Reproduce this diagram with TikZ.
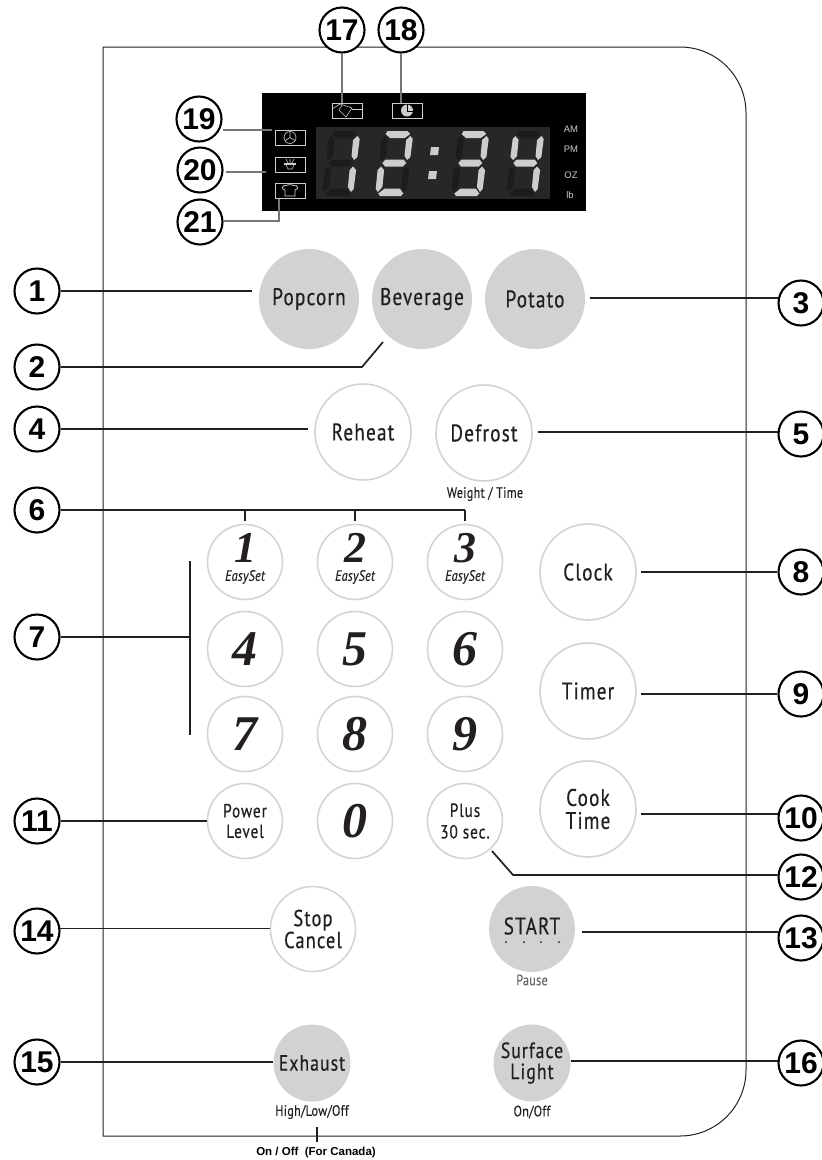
\documentclass[tikz,border=0pt]{standalone}
\usepackage{fontspec}
\setmainfont{Liberation Sans}
\newfontfamily\btnf[FakeStretch=0.80,LetterSpace=5,FakeBold=0.5]{PT Sans}
\newfontfamily\smf[FakeStretch=0.82,LetterSpace=1.5,FakeBold=0.15]{PT Sans}
\newfontfamily\keyf{Liberation Serif}
\definecolor{ink}{HTML}{231F20}
\definecolor{btngray}{HTML}{D1D2D4}
\definecolor{ringgray}{HTML}{D4D4D4}
\definecolor{segon}{HTML}{CDCDCD}
\definecolor{segoff}{HTML}{1C1C1C}
\definecolor{panel}{HTML}{272727}
\definecolor{leadgray}{HTML}{777777}
\tikzset{
  callout/.style={circle,draw=black,line width=2.1pt,fill=white,minimum size=45pt,inner sep=0pt,
    font=\fontsize{30}{30}\selectfont\bfseries},
  graybtn/.style={circle,fill=btngray,inner sep=0pt,align=center,text=ink,
    font=\btnf\fontsize{24}{23}\selectfont},
  whitebtn/.style={circle,draw=ringgray,line width=1.6pt,fill=white,inner sep=0pt,align=center,text=ink,
    font=\btnf\fontsize{24}{23}\selectfont},
  keybtn/.style={whitebtn,minimum size=75pt,font=\keyf\bfseries\itshape\fontsize{50}{50}\selectfont},
  easykey/.style={whitebtn,minimum size=75pt},
  lead/.style={draw=ink,line width=1.7pt},
  glead/.style={draw=leadgray,line width=1.6pt},
  note/.style={inner sep=0pt,text=ink,font=\smf\fontsize{15}{15}\selectfont},
  disp/.style={inner sep=0pt,text=segon,font=\fontsize{9.5}{10}\selectfont},
  iconbox/.style={draw=segon,line width=0.8pt,fill=black,minimum width=30pt,minimum height=15pt,inner sep=0pt},
  icon/.style={draw=segon,line width=0.6pt}
}
% seven segment digit: #1 x origin, #2..#8 colours of a b c d e f g
\newcommand{\segdigit}[8]{%
  \begin{scope}[shift={(#1,196)},xslant=0.1]
    \fill[#2] (6,-65)--(26,-65)--(29,-62)--(24,-58)--(9,-58)--(4.5,-62)--cycle;
    \fill[#3] (29.5,-60)--(32,-57)--(31.5,-39)--(28.5,-36)--(25.5,-40)--(25.5,-56)--cycle;
    \fill[#4] (28,-29.5)--(31.5,-26)--(31,-7)--(28.5,-4)--(25,-9)--(25,-26)--cycle;
    \fill[#5] (9,-7.5)--(24,-7.5)--(28,-2.5)--(26,0)--(5,0)--(3,-2.5)--cycle;
    \fill[#6] (3,-29.5)--(6.5,-26)--(6.5,-9)--(2.5,-4)--(0,-7)--(0,-26)--cycle;
    \fill[#7] (3.5,-60)--(7,-56)--(7,-40)--(3.5,-36)--(0.5,-39)--(1,-57)--cycle;
    \fill[#8] (7,-36.5)--(25,-36.5)--(28,-33)--(25,-29.5)--(7,-29.5)--(4,-33)--cycle;
  \end{scope}}
\begin{document}
\begin{tikzpicture}[x=1pt,y=-1pt]
\useasboundingbox (0,0) rectangle (822,1160);
% outer frame
\draw[line width=1pt,draw=ink] (400,47) -- (103,47) -- (103,1136) -- (400,1136)
  [rounded corners=66pt] -- (746,1136) -- (746,47) -- (400,47);
% display
\fill[black] (262,93) rectangle (586,211);
\fill[panel] (316,127) rectangle (550,199);
\segdigit{322}{segoff}{segon}{segon}{segoff}{segoff}{segoff}{segoff}
\segdigit{375}{segon}{segon}{segoff}{segon}{segon}{segoff}{segon}
\segdigit{451}{segon}{segon}{segon}{segon}{segoff}{segoff}{segon}
\segdigit{506}{segoff}{segon}{segon}{segoff}{segoff}{segon}{segon}
\fill[segon] (431,147) -- (439,147) -- (438,155) -- (430,155) -- cycle;
\fill[segon] (429,171) -- (437,171) -- (436,179) -- (428,179) -- cycle;
\node[disp] (am) at (571,129) {AM};
\node[disp] (pm) at (571,149) {PM};
\node[disp] (oz) at (571,175) {OZ};
\node[disp] (lb) at (570,195) {lb};
% display icons
\node[iconbox] (i17) at (347,110.5) {};
\node[iconbox] (i18) at (407,110.5) {};
\node[iconbox] (i19) at (290,137.5) {};
\node[iconbox] (i20) at (290,164.5) {};
\node[iconbox] (i21) at (290,191) {};
\draw[icon] (332,109) -- (340,104) -- (352,108) -- (346,117) -- (339,110) -- (342,105);
\draw[icon] (352,109) -- (362,109);
\fill[segon] (407,110.5) circle[radius=6];
\draw[black,line width=0.7pt] (407,111) -- (407,104) (407,111) -- (414,111);
\draw[icon] (290,137.5) circle[radius=6];
\draw[icon] (290,137.5) -- (290,132) (290,137.5) -- (285.5,140.5) (290,137.5) -- (294.5,140.5);
\fill[segon] (284,163) rectangle (296,165);
\draw[icon] (286,165) -- (288,169) -- (292,169) -- (294,165);
\draw[icon] (286,159) -- (288,163) (290,159) -- (290,163) (294,159) -- (292,163);
\draw[icon,line width=0.8pt] (285,196) -- (295,196) -- (295,190) .. controls (299,189) and (298,185) .. (294,185.5)
  .. controls (292,184.5) and (288,184.5) .. (286,185.5) .. controls (282,185) and (281,189) .. (285,190) -- cycle;
% buttons
\node[graybtn,minimum size=100pt] (pop) at (309,299) {Popcorn};
\node[graybtn,minimum size=100pt] (bev) at (422,299) {Beverage};
\node[graybtn,minimum size=100pt] (pot) at (535,299) {Potato};
\node[whitebtn,minimum size=96pt] (reh) at (363,432) {Reheat};
\node[whitebtn,minimum size=96pt] (def) at (484,433) {Defrost};
\node[note] (wt) at (485,494) {Weight / Time};
\foreach \n/\t/\x in {k1/1/245,k2/2/355,k3/3/465}{
  \node[easykey] (\n) at (\x,562) {};
  \node[inner sep=0pt,text=ink,font=\keyf\bfseries\itshape\fontsize{44}{44}\selectfont] (\n t) at (\x,548) {\t};
  \node[inner sep=0pt,text=ink,font=\smf\itshape\fontsize{15}{15}\selectfont] (\n e) at (\x,577) {EasySet};
}
\node[keybtn] (k4) at (245,649) {4};
\node[keybtn] (k5) at (355,649) {5};
\node[keybtn] (k6) at (465,649) {6};
\node[keybtn] (k7) at (245,734) {7};
\node[keybtn] (k8) at (355,734) {8};
\node[keybtn] (k9) at (465,734) {9};
\node[whitebtn,minimum size=75pt,font=\btnf\fontsize{19}{20.5}\selectfont] (pl) at (245,821) {Power\\Level};
\node[keybtn] (k0) at (355,821) {0};
\node[whitebtn,minimum size=75pt,font=\btnf\fontsize{19}{21.5}\selectfont] (pls) at (465,821) {Plus\\30 sec.};
\node[whitebtn,minimum size=96pt] (clk) at (588,572) {Clock};
\node[whitebtn,minimum size=96pt] (tim) at (588,691) {Timer};
\node[whitebtn,minimum size=96pt] (ckt) at (588,809) {Cook\\Time};
\node[whitebtn,minimum size=85pt,font=\btnf\fontsize{23}{22}\selectfont] (stp) at (313,929) {Stop\\Cancel};
\node[graybtn,minimum size=86pt] (sta) at (532,929) {};
\node[inner sep=0pt,text=ink,font=\btnf\fontsize{24}{24}\selectfont] (stt) at (532,926) {START};
\foreach \x in {506,524,541,559}{\fill[ink] (\x,942) circle[radius=1];}
\node[note,text=black!60] (pau) at (532,980) {Pause};
\node[graybtn,minimum size=77pt,font=\btnf\fontsize{22}{21}\selectfont] (exh) at (312,1063) {Exhaust};
\node[graybtn,minimum size=77pt,font=\btnf\fontsize{22}{21}\selectfont] (sur) at (532,1063) {Surface\\Light};
\node[note] (hlo) at (312,1112) {High/Low/Off};
\node[note] (onf) at (532,1112) {On/Off};
\node[inner sep=0pt,text=black,font=\fontsize{11.5}{12}\selectfont\bfseries] (can) at (316,1153) {On / Off\ \ (For Canada)};
% callouts
\node[callout] (c1) at (37,291) {1};
\node[callout] (c2) at (37,367) {2};
\node[callout] (c3) at (801,303) {3};
\node[callout] (c4) at (37,429) {4};
\node[callout] (c5) at (801,434) {5};
\node[callout] (c6) at (37,510) {6};
\node[callout] (c7) at (37,637) {7};
\node[callout] (c8) at (801,572) {8};
\node[callout] (c9) at (801,694) {9};
\node[callout] (c10) at (801,818) {10};
\node[callout] (c11) at (37,821) {11};
\node[callout] (c12) at (801,877) {12};
\node[callout] (c13) at (801,938) {13};
\node[callout] (c14) at (37,931) {14};
\node[callout] (c15) at (37,1062) {15};
\node[callout] (c16) at (801,1063) {16};
\node[callout] (c17) at (342,30) {17};
\node[callout] (c18) at (401,30) {18};
\node[callout] (c19) at (199,119) {19};
\node[callout] (c20) at (200,170) {20};
\node[callout] (c21) at (200,222) {21};
% free ends
\coordinate (e2a) at (362,367);
\coordinate (e2b) at (383,342);
\coordinate (e7t) at (190,561);
\coordinate (e7b) at (190,735);
\coordinate (e7m) at (190,637);
\coordinate (e12) at (513,874);
\coordinate (e12b) at (492,851);
\coordinate (e19) at (272,130);
\coordinate (e20) at (226,172);
\coordinate (e20b) at (266,172);
\coordinate (e21) at (279,221);
% connectors
\draw[lead] (c1.east) -- ([xshift=-7pt]c1.east -| pop.west);
\draw[lead] (c2.east) -- (e2a) -- (e2b);
\draw[lead] (c3.167) -- ([xshift=5pt]c3.167 -| pot.east);
\draw[lead] (c4.east) -- ([xshift=-6pt]c4.east -| reh.west);
\draw[lead] (c5.175) -- ([xshift=5pt]c5.175 -| def.east);
\draw[lead] (c6.east) -- (c6.east -| k3.north);
\draw[lead] (k1.north |- c6.east) -- ++(0,11);
\draw[lead] (k2.north |- c6.east) -- ++(0,11);
\draw[lead] (k3.north |- c6.east) -- ++(0,11);
\draw[lead] (c7.east) -- (e7m);
\draw[lead] (e7t) -- (e7b);
\draw[lead] (c8.west) -- ([xshift=4pt]clk.east |- c8.west);
\draw[lead] (c9.west) -- ([xshift=4pt]tim.east |- c9.west);
\draw[lead] (c10.170) -- ([xshift=4pt]ckt.east |- c10.170);
\draw[lead] (c11.east) -- (c11.east -| pl.west);
\draw[lead] (c12.175) -- (c12.175 -| e12) -- (e12b);
\draw[lead] (c13.165) -- ([xshift=7pt]sta.east |- c13.165);
\draw[lead] (c14.6) -- (c14.6 -| stp.west);
\draw[lead] (c15.east) -- (c15.east -| exh.west);
\draw[lead] (c16.175) -- (c16.175 -| sur.east);
\draw[line width=1.5pt,draw=ink] (317,1127) -- (317,1142);
\draw[glead] (c17.south) -- (c17.south |- i17.north);
\draw[glead] (c18.south) -- (c18.south |- i18.north);
\draw[glead] (c19.east |- e19) -- (e19);
\draw[glead] (e20) -- (e20b);
\draw[glead] (c21.east |- e21) -- (e21) -- (e21 |- i21.south);
\end{tikzpicture}
\end{document}
